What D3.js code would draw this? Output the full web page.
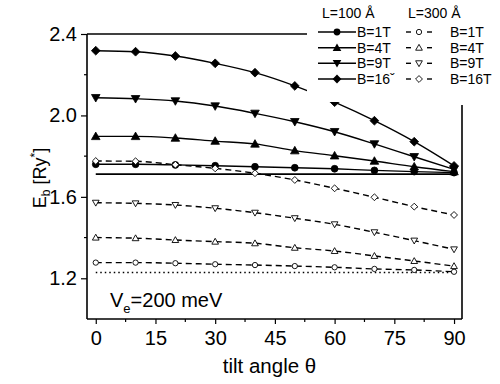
<!DOCTYPE html>
<html><head><meta charset="utf-8">
<script src="https://cdn.jsdelivr.net/npm/d3@7"></script>
<style>body{margin:0;background:#fff}svg{display:block}text{font-family:"Liberation Sans",Arial,sans-serif}</style>
</head><body><svg id="c" width="500" height="384"></svg>
<script>
const angles = [0,10,20,30,40,50,60,70,80,90];
const L100_B1  = [1.760,1.760,1.757,1.753,1.748,1.743,1.738,1.730,1.724,1.719];
const L100_B4  = [1.897,1.897,1.889,1.874,1.860,1.827,1.802,1.776,1.748,1.724];
const L100_B9  = [2.087,2.082,2.071,2.046,2.010,1.969,1.920,1.860,1.797,1.735];
const L100_B16 = [2.318,2.313,2.292,2.256,2.210,2.145,2.065,1.974,1.871,1.752];
const L300_B1  = [1.277,1.277,1.274,1.269,1.265,1.260,1.254,1.246,1.241,1.232];
const L300_B4  = [1.400,1.397,1.388,1.380,1.372,1.350,1.334,1.310,1.285,1.260];
const L300_B9  = [1.571,1.568,1.560,1.544,1.522,1.495,1.465,1.426,1.385,1.342];
const L300_B16 = [1.776,1.775,1.758,1.740,1.716,1.683,1.642,1.598,1.552,1.511];
const refSolid = 1.712;
const refDotted = 1.228;
const xTicks = [0,15,30,45,60,75,90];
const xMinor = [7.5,22.5,37.5,52.5,67.5,82.5];
const yTicks = [1.2,1.6,2.0,2.4];
const yMinor = [1.4,1.8,2.2];
const legendLabels = ["B=1T","B=4T","B=9T","B=16ˇ"];
const legendLabels300 = ["B=1T","B=4T","B=9T","B=16T"];

const svg = d3.select("#c");
const x = d3.scaleLinear().domain([-2.2,92]).range([87,462]);
const y = d3.scaleLinear().domain([1.0,2.4]).range([319,34]);

const series = [
  {v:L100_B1, m:"circle", fill:true},
  {v:L100_B4, m:"tri", fill:true},
  {v:L100_B9, m:"itri", fill:true},
  {v:L100_B16, m:"diamond", fill:true},
  {v:L300_B1, m:"circle", fill:false},
  {v:L300_B4, m:"tri", fill:false},
  {v:L300_B9, m:"itri", fill:false},
  {v:L300_B16, m:"diamond", fill:false}
];
function markerPath(m, filled){
  const s = filled ? 1 : 0.78;
  if(m==="circle"){ const r=3.4*s; return `M${-r},0a${r},${r} 0 1,0 ${2*r},0a${r},${r} 0 1,0 ${-2*r},0Z`; }
  if(m==="tri"){ const a=4.3*s; return `M0,${-a}L${a},${a*0.75}L${-a},${a*0.75}Z`; }
  if(m==="itri"){ const a=4.3*s; return `M0,${a}L${a},${-a*0.75}L${-a},${-a*0.75}Z`; }
  const d=4.4*s; return `M0,${-d}L${d},0L0,${d}L${-d},0Z`;
}
const line = d3.line().x((d,i)=>x(angles[i])).y(d=>y(d)).curve(d3.curveMonotoneX);

// reference lines
svg.append("line").attr("x1",x(0)).attr("x2",x(90)).attr("y1",y(refSolid)).attr("y2",y(refSolid))
  .attr("stroke","#000").attr("stroke-width",1.8);
svg.append("line").attr("x1",x(0)).attr("x2",x(90)).attr("y1",y(refDotted)).attr("y2",y(refDotted))
  .attr("stroke","#000").attr("stroke-width",1.5).attr("stroke-dasharray","1.5,3");

series.forEach(s=>{
  svg.append("path").attr("d",line(s.v)).attr("fill","none").attr("stroke","#000")
    .attr("stroke-width",1.4).attr("stroke-dasharray", s.fill?null:"6,4");
  svg.append("g").selectAll("path").data(s.v).join("path")
    .attr("transform",(d,i)=>`translate(${x(angles[i])},${y(d)})`)
    .attr("d",markerPath(s.m,s.fill))
    .attr("fill",s.fill?"#000":"#fff").attr("stroke","#000").attr("stroke-width",s.fill?0.8:0.9);
});

// legend background
svg.append("rect").attr("x",307).attr("y",0).attr("width",193).attr("height",102).attr("fill","#fff");

// frame
svg.append("line").attr("x1",87).attr("x2",307).attr("y1",34).attr("y2",34).attr("stroke","#000").attr("stroke-width",1.6);
svg.append("line").attr("x1",462).attr("x2",462).attr("y1",105).attr("y2",319).attr("stroke","#000").attr("stroke-width",1.6);

// axes
const xAxis = d3.axisBottom(x).tickValues(xTicks).tickSize(5).tickPadding(7).tickFormat(d3.format("d"));
const gx = svg.append("g").attr("transform","translate(0,319)").call(xAxis);
gx.select(".domain").attr("stroke-width",1.6).attr("d","M87,0H462");
gx.selectAll("text").attr("font-size",20).attr("font-family","Liberation Sans, Arial, sans-serif");
gx.append("g").selectAll("line").data(xMinor).join("line")
  .attr("x1",d=>x(d)).attr("x2",d=>x(d)).attr("y1",0).attr("y2",3).attr("stroke","#000").attr("stroke-width",1.2);
gx.selectAll(".tick line").attr("stroke-width",1.2);

const yAxis = d3.axisLeft(y).tickValues(yTicks).tickSize(6).tickPadding(4).tickFormat(d3.format(".1f"));
const gy = svg.append("g").attr("transform","translate(87,0)").call(yAxis);
gy.select(".domain").attr("stroke-width",1.6).attr("d","M0,34V319");
gy.selectAll("text").attr("font-size",20).attr("font-family","Liberation Sans, Arial, sans-serif");
gy.selectAll(".tick line").attr("stroke-width",1.2);
gy.append("g").selectAll("line").data(yMinor).join("line")
  .attr("x1",0).attr("x2",-3).attr("y1",d=>y(d)).attr("y2",d=>y(d)).attr("stroke","#000").attr("stroke-width",1.2);

// axis titles
svg.append("text").attr("x",269.5).attr("y",373).attr("text-anchor","middle").attr("font-size",20.5).text("tilt angle θ");
const yt = svg.append("text").attr("transform","translate(46,178) rotate(-90)").attr("text-anchor","middle").attr("font-size",18);
yt.append("tspan").text("E");
yt.append("tspan").attr("font-size",12).attr("dy",4).text("b");
yt.append("tspan").attr("dy",-4).text(" [Ry");
yt.append("tspan").attr("font-size",12).attr("dy",-7).text("*");
yt.append("tspan").attr("dy",7).text("]");

const vt = svg.append("text").attr("x",110).attr("y",307).attr("font-size",20);
vt.append("tspan").text("V");
vt.append("tspan").attr("font-size",13).attr("dy",6).text("e");
vt.append("tspan").attr("dy",-6).text("=200 meV");

// legend
const lg = svg.append("g");
lg.append("text").attr("x",322).attr("y",18).attr("font-size",14).text("L=100 Å");
lg.append("text").attr("x",408).attr("y",18).attr("font-size",14).text("L=300 Å");
const rowsY = [32,47.7,63.3,79];
series.slice(0,4).forEach((s,i)=>{
  const yy = rowsY[i];
  lg.append("line").attr("x1",318).attr("x2",356).attr("y1",yy).attr("y2",yy).attr("stroke","#000").attr("stroke-width",1.4);
  lg.append("path").attr("transform",`translate(337,${yy})`).attr("d",markerPath(s.m,true)).attr("fill","#000");
  lg.append("text").attr("x",357).attr("y",yy+5).attr("font-size",14).text(legendLabels[i]);
});
series.slice(4).forEach((s,i)=>{
  const yy = rowsY[i];
  lg.append("line").attr("x1",406).attr("x2",411).attr("y1",yy).attr("y2",yy).attr("stroke","#000").attr("stroke-width",1.4);
  lg.append("line").attr("x1",427).attr("x2",432).attr("y1",yy).attr("y2",yy).attr("stroke","#000").attr("stroke-width",1.4);
  lg.append("path").attr("transform",`translate(419,${yy})`).attr("d",markerPath(s.m,false)).attr("fill","#fff").attr("stroke","#000").attr("stroke-width",0.9);
  lg.append("text").attr("x",450).attr("y",yy+5).attr("font-size",14).text(legendLabels300[i]);
});
</script></body></html>
